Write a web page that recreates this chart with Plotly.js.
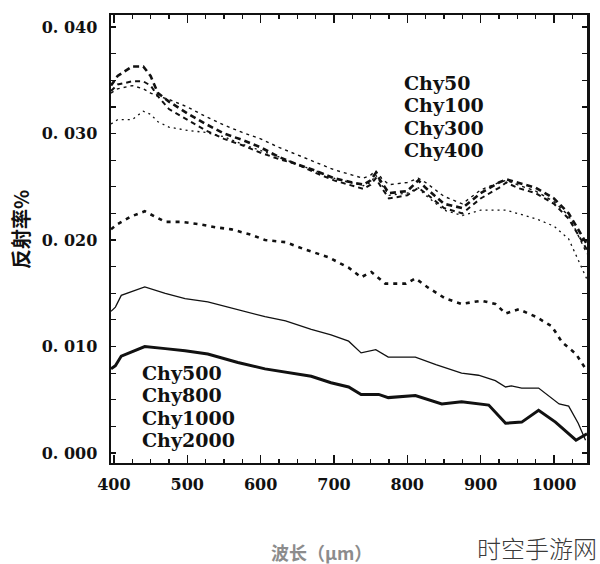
<!DOCTYPE html>
<html>
<head>
<meta charset="utf-8">
<script src="https://cdn.plot.ly/plotly-3.0.1.min.js"></script>
<style>html,body{margin:0;padding:0;background:#fff;}#chart{width:600px;height:564px;}</style>
</head>
<body>
<div id="chart"></div>
<script>
// Wavelength grid (nm) for the upper group of curves
const wlTop = [396,405,425,440,450,460,475,500,525,550,575,600,625,650,675,700,725,740,750,757,765,775,800,815,825,850,875,900,925,935,950,975,1000,1020,1045];
const chy50  = [0.0345,0.0354,0.0363,0.0363,0.0354,0.0338,0.0330,0.0319,0.0309,0.0300,0.0294,0.0287,0.0278,0.0271,0.0265,0.0258,0.0254,0.0252,0.0256,0.0263,0.0254,0.0244,0.0246,0.0256,0.0249,0.0234,0.0230,0.0244,0.0254,0.0257,0.0254,0.0249,0.0239,0.0225,0.0196];
const chy100 = [0.0340,0.0346,0.0349,0.0349,0.0345,0.0335,0.0323,0.0313,0.0303,0.0295,0.0289,0.0282,0.0276,0.0271,0.0263,0.0256,0.0251,0.0248,0.0252,0.0258,0.0249,0.0239,0.0242,0.0249,0.0244,0.0230,0.0225,0.0239,0.0249,0.0254,0.0249,0.0244,0.0234,0.0220,0.0191];
const chy300 = [0.0338,0.0342,0.0345,0.0342,0.0338,0.0335,0.0332,0.0325,0.0316,0.0308,0.0301,0.0295,0.0287,0.0280,0.0273,0.0266,0.0261,0.0258,0.0261,0.0265,0.0258,0.0252,0.0254,0.0258,0.0254,0.0241,0.0234,0.0247,0.0254,0.0256,0.0252,0.0246,0.0236,0.0223,0.0187];
const chy400 = [0.0309,0.0313,0.0313,0.0321,0.0318,0.0311,0.0306,0.0303,0.0301,0.0297,0.0290,0.0284,0.0278,0.0271,0.0265,0.0258,0.0254,0.0251,0.0254,0.0261,0.0252,0.0242,0.0244,0.0249,0.0242,0.0228,0.0223,0.0228,0.0228,0.0228,0.0225,0.0220,0.0213,0.0201,0.0163];

// Lower group
const wl500 = [396,405,423,442,470,492,515,538,560,587,606,634,661,692,720,737,751,770,798,811,829,852,874,901,920,934,952,975,997,1011,1030,1045];
const chy500 = [0.0210,0.0215,0.0222,0.0227,0.0217,0.0217,0.0215,0.0212,0.0210,0.0205,0.0200,0.0198,0.0191,0.0184,0.0174,0.0165,0.0170,0.0159,0.0159,0.0164,0.0155,0.0145,0.0140,0.0143,0.0140,0.0131,0.0135,0.0128,0.0119,0.0104,0.0093,0.0077];
const wl1000 = [396,402,410,423,442,470,497,528,569,606,634,669,696,720,737,757,774,811,839,874,897,920,934,942,956,979,1007,1020,1033,1043];
const chy1000 = [0.0133,0.0137,0.0148,0.0151,0.0156,0.0150,0.0145,0.0142,0.0135,0.0128,0.0124,0.0116,0.0111,0.0105,0.0094,0.0097,0.0090,0.0090,0.0083,0.0075,0.0073,0.0068,0.0062,0.0063,0.0061,0.0061,0.0046,0.0044,0.0028,0.0012];
const wl2000 = [396,402,410,442,470,497,528,569,606,634,669,696,720,737,761,774,811,847,874,911,934,956,979,1002,1030,1045];
const chy2000 = [0.0079,0.0082,0.0091,0.0100,0.0098,0.0096,0.0093,0.0085,0.0079,0.0076,0.0072,0.0066,0.0062,0.0055,0.0055,0.0052,0.0054,0.0046,0.0048,0.0045,0.0028,0.0029,0.0040,0.0029,0.0012,0.0018];

const legendTop = ["Chy50","Chy100","Chy300","Chy400"];
const legendBottom = ["Chy500","Chy800","Chy1000","Chy2000"];
const yTickLabels = {"0.000":"0. 000","0.010":"0. 010","0.020":"0. 020","0.030":"0. 030","0.040":"0. 040"};

const ink = "#111";
function tr(x, y, name, width, dash) {
  return {x: x, y: y, name: name, type: "scatter", mode: "lines",
          line: {color: ink, width: width, dash: dash, shape: "linear"}, hoverinfo: "skip"};
}
const data = [
  tr(wlTop, chy50, "Chy50", 2.6, "6px,4px"),
  tr(wlTop, chy100, "Chy100", 2.0, "5px,4px"),
  tr(wlTop, chy300, "Chy300", 1.4, "3px,4px"),
  tr(wlTop, chy400, "Chy400", 1.3, "2px,4px"),
  tr(wl500, chy500, "Chy500", 2.6, "4px,5px"),
  tr(wl1000, chy1000, "Chy1000", 1.3, "solid"),
  tr(wl2000, chy2000, "Chy2000", 3.0, "solid")
];

const numFont = {family: "DejaVu Serif", size: 16, color: ink, weight: "bold"};
const legFont = {family: "DejaVu Serif", size: 19, color: ink, weight: "bold"};

const annotations = [];
const topY = [0.848, 0.799, 0.748, 0.699];
legendTop.forEach((t, i) => annotations.push({text: t, xref: "paper", yref: "paper", x: 0.611, y: topY[i], xanchor: "left", yanchor: "middle", showarrow: false, font: legFont}));
const botY = [0.201, 0.152, 0.100, 0.051];
legendBottom.forEach((t, i) => annotations.push({text: t, xref: "paper", yref: "paper", x: 0.061, y: botY[i], xanchor: "left", yanchor: "middle", showarrow: false, font: legFont}));
annotations.push({text: "反射率%", xref: "paper", yref: "paper", x: -0.191, y: 0.52, xanchor: "center", yanchor: "middle", textangle: -90, showarrow: false,
  font: {family: "Noto Sans CJK SC", size: 20, color: ink, weight: "bold"}});
annotations.push({text: "波长（μm）", xref: "paper", yref: "paper", x: 0.443, y: -0.199, xanchor: "center", yanchor: "middle", showarrow: false,
  font: {family: "Noto Sans CJK SC", size: 18, color: "#8c8c8c", weight: "bold"}});
annotations.push({text: "时空手游网", xref: "paper", yref: "paper", x: 1.026, y: -0.188, xanchor: "right", yanchor: "middle", showarrow: false,
  font: {family: "Noto Sans CJK SC", size: 24, color: "#3a3a3a", weight: 300}});

const layout = {
  width: 600, height: 564,
  margin: {l: 111, r: 13, t: 15, b: 101},
  paper_bgcolor: "#fff", plot_bgcolor: "#fff",
  showlegend: false,
  xaxis: {
    range: [396, 1045], tickmode: "linear", tick0: 400, dtick: 100,
    ticks: "inside", ticklen: 8, tickwidth: 1.5, tickcolor: ink,
    minor: {dtick: 25, tick0: 400, ticks: "inside", ticklen: 4, tickwidth: 1.2, tickcolor: ink, showgrid: false},
    showline: true, linewidth: 2, linecolor: ink, mirror: "ticks",
    showgrid: false, zeroline: false, tickfont: numFont, ticklabelstandoff: 6
  },
  yaxis: {
    range: [-0.00094, 0.04113], tickmode: "linear", tick0: 0, dtick: 0.01, tickformat: ".3f",
    labelalias: yTickLabels,
    ticks: "inside", ticklen: 5, tickwidth: 1.5, tickcolor: ink,
    minor: {dtick: 0.0025, tick0: 0, ticks: "inside", ticklen: 5, tickwidth: 1.2, tickcolor: ink, showgrid: false},
    showline: true, linewidth: 2.5, linecolor: ink, mirror: "ticks",
    showgrid: false, zeroline: false, tickfont: numFont, ticklabelstandoff: 8
  },
  annotations: annotations
};

Plotly.newPlot("chart", data, layout, {staticPlot: true, displayModeBar: false});
</script>
</body>
</html>
